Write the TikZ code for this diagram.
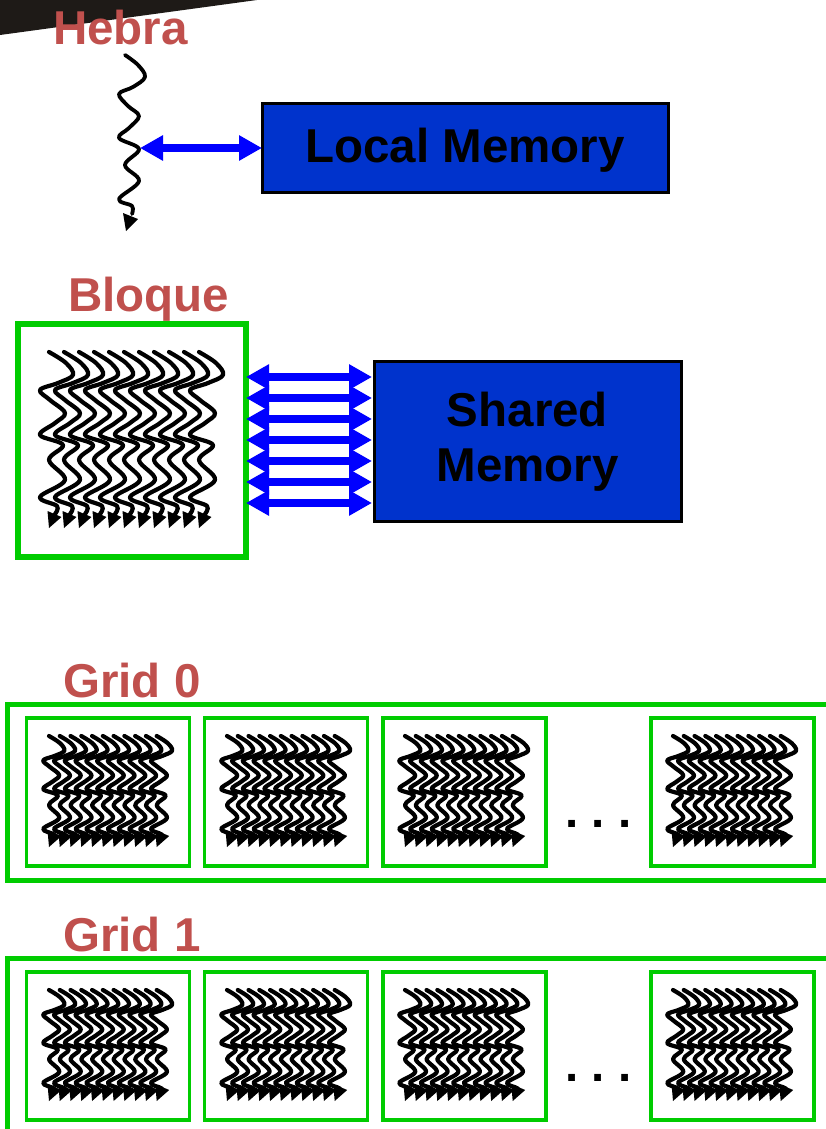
\documentclass[tikz,border=0pt]{standalone}
\usepackage{fontspec}
\setmainfont{Liberation Sans}
\usetikzlibrary{arrows.meta}
\definecolor{labelred}{HTML}{C0504D}
\definecolor{memblue}{HTML}{0033CC}
\definecolor{arrowblue}{HTML}{0000FF}
\definecolor{framegreen}{HTML}{00CC00}
\definecolor{wedge}{HTML}{1E1A17}
\tikzset{
  titlelabel/.style={anchor=base west,inner sep=0pt,text=labelred,font=\fontsize{47.5}{50}\selectfont\bfseries},
  membox/.style={draw=black,line width=3pt,fill=memblue,inner sep=0pt,outer sep=0pt,align=center,text=black,font=\fontsize{47.5}{55}\selectfont\bfseries},
  blockbox/.style={draw=framegreen,line width=6pt,inner sep=0pt,outer sep=0pt,minimum width=228pt,minimum height=233pt},
  gridbox/.style={draw=framegreen,line width=5pt,inner sep=0pt,outer sep=0pt,minimum width=823pt,minimum height=176pt},
  cellbox/.style={draw=framegreen,line width=3.8pt,inner sep=0pt,outer sep=0pt,minimum width=163pt,minimum height=147.5pt},
  dotslabel/.style={inner sep=0pt,text=black,font=\fontsize{47.5}{50}\selectfont\bfseries},
  biarrow/.style={draw=arrowblue,line width=8pt,{Triangle[length=23pt,width=24pt]}-{Triangle[length=23pt,width=24pt]}},
  threadline/.style={draw=black,line width=4.2pt,line cap=round,line join=round},
}
% one wavy thread: x, y of start, scale, head tip drop
\newcommand{\wavythread}[4]{%
  \begin{scope}[shift={(#1,#2)},scale=#3]
    \draw[threadline] plot[smooth,tension=.6] coordinates {(0,0) (17,11) (24,23) (9,31) (-9,38) (1,48) (16,61) (6,71) (-9,83) (14,93) (0,108) (16,128) (-9,145) (8,154) (6,162)};
  \end{scope}
  \begin{scope}[shift={(#1,#2+#4)}]
    \fill[black] (-1.5,-17) -- (12.5,-11) -- (0,0) -- cycle;
  \end{scope}}
% a bundle of eleven threads
\newcommand{\threadbundle}[5]{%
  \foreach \k in {0,...,10}{\pgfmathsetmacro{\tx}{#1+\k*#4}\wavythread{\tx}{#2}{#3}{#5}}}
\begin{document}
\begin{tikzpicture}[x=1pt,y=-1pt]
\useasboundingbox (0,0) rectangle (826,1129);
\clip (0,0) rectangle (826,1129);
\fill[white] (0,0) rectangle (826,1129);
\fill[wedge] (0,0) -- (257,0) -- (0,35) -- cycle;

\node[titlelabel] (hebra) at (53,45) {Hebra};
\draw[threadline,line width=3.8pt] plot[smooth,tension=.6] coordinates {(125,55) (138,65) (145,77) (133,87) (119,94) (128,106) (139,116) (129,128) (119,138) (139,149) (125,165) (139,181) (119,199) (132,206) (132,214)};
\fill[black] (123,213) -- (138,219) -- (126,231) -- cycle;
\coordinate (threadpoint) at (140,148);
\node[membox,minimum width=406pt,minimum height=88pt] (local) at (465,148) {\raisebox{-2.5pt}[\height][\depth]{Local Memory}};
\draw[biarrow] (threadpoint) -- (local.west |- threadpoint);

\node[titlelabel] (bloque) at (68,311) {Bloque};
\node[blockbox] (block) at (132,440.5) {};
\threadbundle{49}{352}{1}{15}{176}
\node[membox,minimum width=307pt,minimum height=160pt] (shared) at (527.5,441) {\raisebox{-2pt}[\height][\depth]{\begin{tabular}{@{}c@{}}Shared\\Memory\end{tabular}}};
\foreach \i/\yy in {1/377,2/398,3/419,4/440,5/461,6/482,7/503}{
  \coordinate (s\i) at (248,\yy);
  \draw[biarrow,shorten >=2pt] (block.east |- s\i) -- (shared.west |- s\i);
}

\foreach \g/\dy/\lab in {0/0/Grid 0,1/254/Grid 1}{
  \node[titlelabel] (gridlabel\g) at (63,697+\dy) {\lab};
  \node[gridbox] (grid\g) at (419,792+\dy) {};
  \foreach \c/\cx/\off in {a/108/0,b/286/178,c/464.5/356,d/732.5/624}{
    \node[cellbox] (cell\g\c) at (\cx,792+\dy) {};
    \pgfmathsetmacro{\bx}{49+\off}
    \pgfmathsetmacro{\by}{736+\dy}
    \threadbundle{\bx}{\by}{.64}{10.77}{111}
  }
  \node[dotslabel] (dots\g) at (598.5,824+\dy) {.\hspace{13.3pt}.\hspace{13.3pt}.};
}
\end{tikzpicture}
\end{document}
